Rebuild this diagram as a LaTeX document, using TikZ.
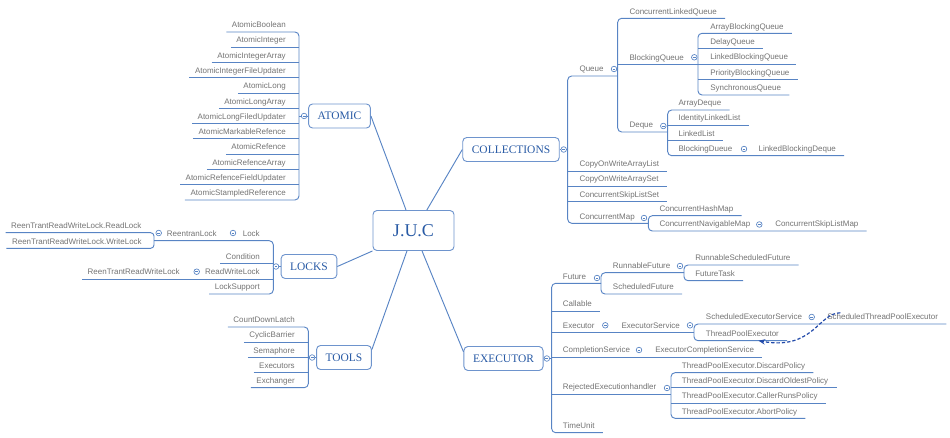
\documentclass[tikz,border=0pt]{standalone}
\usepackage{fontspec}
\setmainfont{Liberation Serif}
\setsansfont{Liberation Sans}
\usetikzlibrary{positioning,arrows.meta}
\definecolor{linkblue}{RGB}{88,132,196}
\definecolor{boxblue}{RGB}{110,148,205}
\definecolor{topicblue}{RGB}{40,90,165}
\definecolor{itemgray}{RGB}{115,115,115}
\definecolor{depblue}{RGB}{35,75,170}
\tikzset{
  link/.style={draw=linkblue, line width=0.7pt},
  topic/.style={draw=boxblue, line width=0.7pt, rounded corners=3pt, fill=white, text=topicblue,
    font=\fontsize{8.6}{10}\selectfont, inner xsep=6.8pt, minimum height=18pt},
  core/.style={topic, font=\fontsize{13.5}{16}\selectfont, inner xsep=15pt, minimum height=30pt},
  item/.style={text=itemgray, font=\sffamily\fontsize{6}{7}\selectfont, inner sep=0pt,
    text height=5pt, text depth=3pt},
  fold/.style={circle, draw=linkblue, fill=white, line width=0.5pt, inner sep=0pt, minimum size=4.2pt,
    path picture={\draw[linkblue, line width=0.4pt] ([xshift=-1.1pt]path picture bounding box.center)
      -- ([xshift=1.1pt]path picture bounding box.center);}},
  dep/.style={draw=depblue, line width=0.9pt, dash pattern=on 2.5pt off 1.5pt, -{Stealth[length=5pt,width=4pt]}}
}

\begin{document}
\begin{tikzpicture}[x=0.75pt, y=-0.75pt]
\useasboundingbox (0,0) rectangle (950,438);

% main topics
\node[core]  (juc) at (413.5,230.5) {J.U.C};
\node[topic] (atomic) at (339.5,116) {ATOMIC};
\node[topic] (collections) at (511,149.5) {COLLECTIONS};
\node[topic] (locks) at (309,266.5) {LOCKS};
\node[topic] (tools) at (344,357.5) {TOOLS};
\node[topic] (executor) at (503.5,358.5) {EXECUTOR};

\draw[link] (atomic.east) -- ([xshift=-5.6pt]juc.north);
\draw[link] (collections.west) -- ([xshift=10pt]juc.north);
\draw[link] (locks.east) -- (juc.south west);
\draw[link] ([yshift=6pt]tools.east) -- ([xshift=-4.9pt]juc.south);
\draw[link] ([yshift=5pt]executor.west) -- ([xshift=6.4pt]juc.south);

% ATOMIC
\coordinate (abar) at (299,0);
\foreach \t [count=\i from 0] in {AtomicBoolean,AtomicInteger,AtomicIntegerArray,
    AtomicIntegerFileUpdater,AtomicLong,AtomicLongArray,AtomicLongFiledUpdater,
    AtomicMarkableRefence,AtomicRefence,AtomicRefenceArray,AtomicRefenceFieldUpdater,
    AtomicStampledReference}
  \node[item, anchor=south east] (a\i) at (286,32+15.27*\i) {\t};
\foreach \i in {1,...,10}
  \draw[link] ([xshift=-4pt]a\i.south west) -- (a\i.south -| abar);
\draw[link, rounded corners=3pt] ([xshift=-4pt]a0.south west) -- (a0.south -| abar)
  -- (a11.south -| abar) -- ([xshift=-4pt]a11.south west);
\draw[link] (atomic.west) -- (atomic.west -| abar);
\node[fold] (fatomic) at ([xshift=-3pt]atomic.west) {};

% LOCKS
\coordinate (lbar) at (273.3,0);
\coordinate (rlbar) at (154,0);
\node[item, anchor=south east] (lock) at (260,240.7) {Lock};
\node[item, anchor=south east] (reentran) at (217,240.7) {ReentranLock};
\node[item, anchor=south east] (readlock) at (141.7,232.7) {ReenTrantReadWriteLock.ReadLock};
\node[item, anchor=south east] (writelock) at (142,248.3) {ReenTrantReadWriteLock.WriteLock};
\node[item, anchor=south east] (condition) at (260,263.3) {Condition};
\node[item, anchor=south east] (rwlock) at (260,279) {ReadWriteLock};
\node[item, anchor=south east] (rrwlock) at (180,279) {ReenTrantReadWriteLock};
\node[item, anchor=south east] (locksupport) at (260,294) {LockSupport};
\draw[link, rounded corners=3pt] (lock.south -| rlbar) -- (lock.south -| lbar)
  -- (locksupport.south -| lbar) -- ([xshift=-4pt]locksupport.south west);
\draw[link] ([xshift=-4pt]condition.south west) -- (condition.south -| lbar);
\draw[link] ([xshift=-4pt]rrwlock.south west) -- (rwlock.south -| lbar);
\draw[link, rounded corners=2.5pt] ([xshift=-4pt]readlock.south west) -- (readlock.south -| rlbar)
  -- (writelock.south -| rlbar) -- ([xshift=-4pt]writelock.south west);
\draw[link] (locks.west) -- (locks.west -| lbar);
\node[fold] (flocks) at ([xshift=-3.5pt]locks.west) {};
\node[fold] (flock) at (233,233) {};
\node[fold] (freentran) at (158.7,233) {};
\node[fold] (frwlock) at (196.7,271.7) {};

% TOOLS
\coordinate (tbar) at (308.3,0);
\foreach \t [count=\i from 0] in {CountDownLatch,CyclicBarrier,Semaphore,Executors,Exchanger}
  \node[item, anchor=south east] (t\i) at (295,327+15.17*\i) {\t};
\foreach \i in {1,2,3}
  \draw[link] ([xshift=-4pt]t\i.south west) -- (t\i.south -| tbar);
\draw[link, rounded corners=3pt] ([xshift=-4pt]t0.south west) -- (t0.south -| tbar)
  -- (t4.south -| tbar) -- ([xshift=-4pt]t4.south west);
\draw[link] (tools.west) -- (tools.west -| tbar);
\node[fold] (ftools) at ([xshift=-3pt]tools.west) {};

% COLLECTIONS
\coordinate (cbar) at (567.7,0);
\coordinate (qbar) at (617.7,0);
\coordinate (bqbar) at (698,0);
\coordinate (dbar) at (667.7,0);
\coordinate (mbar) at (648.3,0);
\node[item, anchor=south west] (queue) at (579.3,76) {Queue};
\node[item, anchor=south west] (clq) at (629.3,18.3) {ConcurrentLinkedQueue};
\node[item, anchor=south west] (bq) at (629.3,64.3) {BlockingQueue};
\foreach \t [count=\i] in {ArrayBlockingQueue,DelayQueue,LinkedBlockingQueue,
    PriorityBlockingQueue,SynchronousQueue}
  \node[item, anchor=south west] (bq\i) at (710,33.3+15.42*\i-15.42) {\t};
\node[item, anchor=south west] (deque) at (629.3,132) {Deque};
\foreach \t [count=\i] in {ArrayDeque,IdentityLinkedList,LinkedList,BlockingDueue}
  \node[item, anchor=south west] (dq\i) at (678.3,110+15.23*\i-15.23) {\t};
\node[item, anchor=south west] (lbd) at (758.3,155.7) {LinkedBlockingDeque};
\node[item, anchor=south west] (cowal) at (579.3,171) {CopyOnWriteArrayList};
\node[item, anchor=south west] (cowas) at (579.3,186) {CopyOnWriteArraySet};
\node[item, anchor=south west] (csls) at (579.3,201.7) {ConcurrentSkipListSet};
\node[item, anchor=south west] (cmap) at (579.3,223.3) {ConcurrentMap};
\node[item, anchor=south west] (chm) at (659.3,215.7) {ConcurrentHashMap};
\node[item, anchor=south west] (cnm) at (659.3,231) {ConcurrentNavigableMap};
\node[item, anchor=south west] (cslm) at (775,231) {ConcurrentSkipListMap};
\draw[link, rounded corners=3pt] (queue.south -| qbar) -- (queue.south -| cbar)
  -- (cmap.south -| cbar) -- (cmap.south -| mbar);
\foreach \n in {cowal,cowas,csls}
  \draw[link] (\n.south -| cbar) -- ([xshift=6pt]\n.south east);
\draw[link] (collections.east) -- (collections.east -| cbar);
\draw[link, rounded corners=3pt] ([xshift=6pt]clq.south east) -- (clq.south -| qbar)
  -- (deque.south -| qbar) -- (deque.south -| dbar);
\draw[link] (bq.south -| qbar) -- (bq.south -| bqbar);
\draw[link, rounded corners=3pt] ([xshift=6pt]bq1.south east) -- (bq1.south -| bqbar)
  -- (bq5.south -| bqbar) -- ([xshift=6pt]bq5.south east);
\foreach \i in {2,3,4}
  \draw[link] (bq\i.south -| bqbar) -- ([xshift=6pt]bq\i.south east);
\draw[link, rounded corners=3pt] ([xshift=6pt]dq1.south east) -- (dq1.south -| dbar)
  -- (dq4.south -| dbar) -- ([xshift=6pt]lbd.south east);
\foreach \i in {2,3}
  \draw[link] (dq\i.south -| dbar) -- ([xshift=6pt]dq\i.south east);
\draw[link, rounded corners=3pt] ([xshift=6pt]chm.south east) -- (chm.south -| mbar)
  -- (cnm.south -| mbar) -- ([xshift=6pt]cslm.south east);
\node[fold] (fcollections) at ([xshift=3pt]collections.east) {};
\node[fold] (fqueue) at (614,69) {};
\node[fold] (fbq) at (694.3,57.3) {};
\node[fold] (fdeque) at (663.3,126) {};
\node[fold] (fbdq) at (744,149) {};
\node[fold] (fcmap) at (644,218) {};
\node[fold] (fcnm) at (759.3,224.5) {};

% EXECUTOR
\coordinate (ebar) at (551.7,0);
\coordinate (fbar) at (601,0);
\coordinate (rfbar) at (684,0);
\coordinate (esbar) at (694,0);
\coordinate (rbar) at (671,0);
\node[item, anchor=south west] (future) at (562.7,283.3) {Future};
\node[item, anchor=south west] (rf) at (612.7,272.7) {RunnableFuture};
\node[item, anchor=south west] (rsf) at (695,265) {RunnableScheduledFuture};
\node[item, anchor=south west] (ft) at (695,280.7) {FutureTask};
\node[item, anchor=south west] (sf) at (612.7,294) {ScheduledFuture};
\node[item, anchor=south west] (callable) at (562.7,311) {Callable};
\node[item, anchor=south west] (exe) at (562.7,332.3) {Executor};
\node[item, anchor=south west] (es) at (621.3,332.3) {ExecutorService};
\node[item, anchor=south west] (ses) at (705.7,324) {ScheduledExecutorService};
\node[item, anchor=south west] (stpe) at (827,324) {ScheduledThreadPoolExecutor};
\node[item, anchor=south west] (tpe) at (705.7,340.7) {ThreadPoolExecutor};
\node[item, anchor=south west] (cs) at (562.7,357) {CompletionService};
\node[item, anchor=south west] (ecs) at (655,357) {ExecutorCompletionService};
\node[item, anchor=south west] (reh) at (562.7,394) {RejectedExecutionhandler};
\foreach \t [count=\i] in {DiscardPolicy,DiscardOldestPolicy,CallerRunsPolicy,AbortPolicy}
  \node[item, anchor=south west] (rp\i) at (681.7,372.7+15.2*\i-15.2) {ThreadPoolExecutor.\t};
\node[item, anchor=south west] (tu) at (562.7,432.7) {TimeUnit};
\draw[link, rounded corners=3pt] (future.south -| fbar) -- (future.south -| ebar)
  -- (tu.south -| ebar) -- ([xshift=6pt]tu.south east);
\draw[link] (callable.south -| ebar) -- ([xshift=6pt]callable.south east);
\draw[link] (exe.south -| ebar) -- (exe.south -| esbar);
\draw[link] (cs.south -| ebar) -- ([xshift=6pt]ecs.south east);
\draw[link] (reh.south -| ebar) -- (reh.south -| rbar);
\draw[link] (executor.east) -- (executor.east -| ebar);
\draw[link, rounded corners=3pt] (rf.south -| rfbar) -- (rf.south -| fbar)
  -- (sf.south -| fbar) -- ([xshift=6pt]sf.south east);
\draw[link, rounded corners=3pt] ([xshift=6pt]rsf.south east) -- (rsf.south -| rfbar)
  -- (ft.south -| rfbar) -- ([xshift=6pt]ft.south east);
\draw[link, rounded corners=3pt] ([xshift=6pt]stpe.south east) -- (ses.south -| esbar)
  -- (tpe.south -| esbar) -- ([xshift=6pt]tpe.south east);
\draw[link, rounded corners=3pt] ([xshift=6pt]rp1.south east) -- (rp1.south -| rbar)
  -- (rp4.south -| rbar) -- ([xshift=6pt]rp4.south east);
\foreach \i in {2,3}
  \draw[link] (rp\i.south -| rbar) -- ([xshift=6pt]rp\i.south east);
\node[fold] (fexecutor) at ([xshift=2.5pt]executor.east) {};
\node[fold] (ffuture) at (597,278) {};
\node[fold] (frf) at (680,266) {};
\node[fold] (fexe) at (605.3,325.3) {};
\node[fold] (fes) at (690,325.3) {};
\node[fold] (fses) at (811.7,317) {};
\node[fold] (fcs) at (639,350) {};
\node[fold] (freh) at (667,388) {};

% ScheduledThreadPoolExecutor extends ThreadPoolExecutor
\draw[dep] ([xshift=10pt]stpe.north west) .. controls +(-22,0) and +(55,10) .. ([xshift=12pt]tpe.south);
\end{tikzpicture}
\end{document}
